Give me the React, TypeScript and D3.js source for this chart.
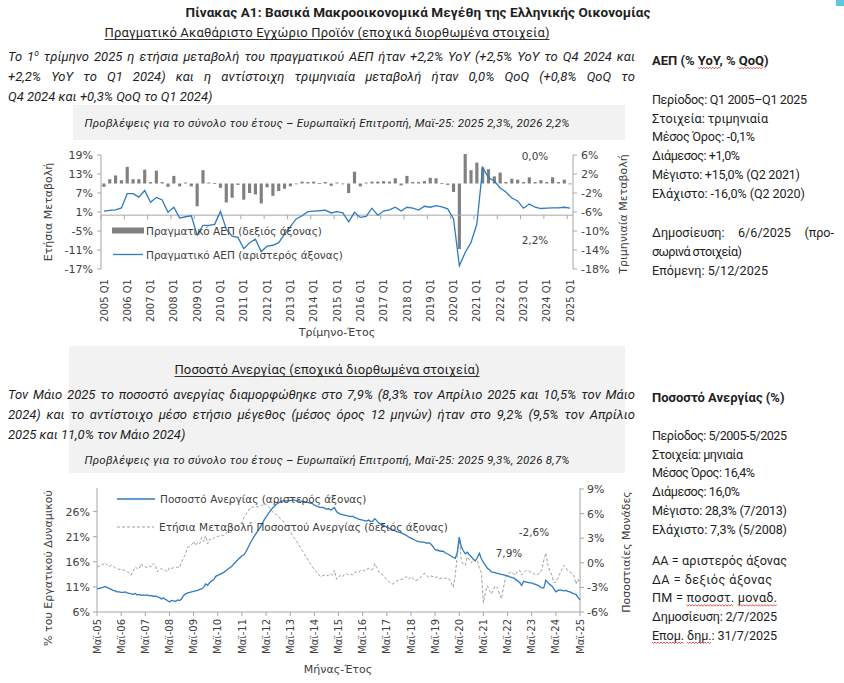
import React from 'react';
import * as d3 from 'd3';

// ---------------- DATA ----------------
const gdpTickLabels = ['2005 Q1', '2006 Q1', '2007 Q1', '2008 Q1', '2009 Q1', '2010 Q1', '2011 Q1', '2012 Q1', '2013 Q1', '2014 Q1', '2015 Q1', '2016 Q1', '2017 Q1', '2018 Q1', '2019 Q1', '2020 Q1', '2021 Q1', '2022 Q1', '2023 Q1', '2024 Q1', '2025 Q1'];

// Real GDP, % YoY (left axis), Q1 2005 .. Q1 2025
const gdpYoY = [
  1.3, 1.5, 1.7, 2.3,
  6.8, 6.8, 5.7, 7.8,
  4.1, 5.6, 4.8, 0.9,
  2.5, -0.9, -0.5, -0.2,
  -6.3, -3.2, -3.2, -2.9,
  1.2, -4.4, -6.6, -7.0,
  -10.6, -8.7, -7.6, -11.5,
  -9.8, -9.5, -8.7, -6.0,
  -3.6, -1.2, -0.2, 1.1,
  1.3, 1.4, 1.6, 0.7,
  1.1, 0.7, -2.1, 0.9,
  -0.7, -0.4, 2.2, 0.0,
  1.3, 1.7, 2.5, 1.3,
  2.5, 2.2, 1.6, 2.8,
  2.5, 3.0, 2.6, 2.0,
  -1.2, -16.0, -11.8, -8.6,
  -2.8, 15.0, 11.8, 10.8,
  8.6, 7.3, 5.4, 4.5,
  2.2, 3.5, 2.5, 2.1,
  2.2, 2.3, 2.3, 2.5,
  2.2,
];

// Real GDP, % QoQ (right axis)
const gdpQoQ = [
  -0.7, 0.9, 1.7, 0.7,
  3.5, 0.9, 0.9, 2.9,
  0.3, 2.7, 0.3, -0.7,
  1.6, -0.6, 0.2, -0.6,
  -4.8, 2.8, 0.2, 0.1,
  -0.9, -4.0, -3.0, -0.3,
  -3.4, -2.0, -2.3, -4.2,
  -0.8, -2.6, -1.6, -1.1,
  -0.6, -0.1, 0.4, 0.3,
  0.4, 0.1, 0.3, -0.5,
  0.2, 0.0, -2.0, 2.5,
  -0.6, 0.2, 0.4, 0.4,
  0.5, 0.4, 1.1, -0.4,
  1.6, 0.3, 0.3, 0.5,
  1.2, 1.1, 0.1, -0.3,
  -1.8, -13.8, 6.2, 2.8,
  4.4, 3.4, 3.0, 1.5,
  2.3, 0.3, 1.0, 0.8,
  0.3, 1.3, 0.3, 0.7,
  0.3, 1.3, 0.3, 0.8,
  0.0,
];

const unempTickLabels = ['Μαϊ-05', 'Μαϊ-06', 'Μαϊ-07', 'Μαϊ-08', 'Μαϊ-09', 'Μαϊ-10', 'Μαϊ-11', 'Μαϊ-12', 'Μαϊ-13', 'Μαϊ-14', 'Μαϊ-15', 'Μαϊ-16', 'Μαϊ-17', 'Μαϊ-18', 'Μαϊ-19', 'Μαϊ-20', 'Μαϊ-21', 'Μαϊ-22', 'Μαϊ-23', 'Μαϊ-24', 'Μαϊ-25'];

// Unemployment rate % (left axis), May 2005 .. May 2025, monthly
const unempRate = [
  10.6, 10.7, 10.8, 10.9, 11.1, 10.9, 10.7, 10.5, 10.3, 10.2, 10.0, 10.0,
  9.9, 9.9, 10.0, 9.8, 9.7, 9.6, 9.5, 9.7, 9.4, 9.5, 9.3, 9.4,
  9.3, 9.4, 9.2, 9.3, 9.1, 9.2, 9.0, 8.9, 8.6, 8.8, 8.5, 8.3,
  8.0, 8.3, 8.2, 8.1, 8.4, 8.3, 8.6, 9.3, 9.6, 9.8, 9.9, 10.0,
  10.1, 10.2, 10.3, 10.5, 10.6, 10.9, 11.6, 11.3, 11.9, 12.2, 12.4, 13.1,
  13.3, 13.5, 13.7, 13.9, 14.2, 14.5, 14.8, 15.1, 15.6, 16.0, 16.4, 16.8,
  17.2, 17.4, 18.0, 18.8, 19.6, 20.3, 21.0, 21.6, 22.2, 22.8, 23.5, 24.3,
  24.9, 25.5, 26.1, 26.6, 27.0, 27.4, 27.7, 27.9, 28.1, 28.2, 28.1, 28.2,
  28.2, 28.3, 28.3, 28.2, 28.1, 28.1, 28.0, 28.0, 27.9, 27.8, 27.7, 27.6,
  27.3, 27.1, 27.0, 26.8, 26.9, 26.7, 26.5, 26.6, 26.3, 26.5, 26.8, 26.0,
  25.7, 25.5, 25.4, 25.3, 25.2, 25.1, 25.0, 25.1, 24.8, 24.7, 24.5, 24.4,
  24.3, 24.2, 24.1, 24.3, 24.0, 24.1, 24.6, 24.2, 23.7, 23.5, 23.3, 23.1,
  22.9, 22.7, 22.5, 22.3, 22.2, 22.0, 21.9, 21.8, 21.6, 21.4, 21.2, 20.9,
  20.7, 20.5, 20.3, 20.1, 20.0, 19.9, 19.9, 19.8, 19.7, 19.8, 19.5, 19.0,
  18.4, 18.3, 18.2, 18.1, 18.1, 17.8, 17.6, 17.4, 17.1, 16.9, 16.7, 17.8,
  20.9, 19.0, 18.2, 17.6, 17.9, 17.4, 17.0, 16.5, 16.2, 16.8, 17.7, 16.6,
  15.9, 15.3, 14.7, 14.4, 14.0, 13.9, 13.8, 13.7, 13.6, 13.5, 13.4, 13.3,
  13.2, 13.0, 12.9, 12.8, 12.5, 12.2, 11.9, 11.3, 12.1, 12.0, 11.9, 11.8,
  11.8, 11.6, 11.5, 11.3, 11.1, 10.8, 10.8, 12.3, 11.9, 11.5, 11.2, 10.6,
  10.0, 10.3, 10.4, 10.3, 10.2, 10.3, 10.1, 10.0, 9.8, 9.6, 9.5, 8.9,
  8.4,
];

// Annual change of unemployment rate, percentage points (right axis)
const unempChange = [
  -0.5, -0.4, -0.3, -0.2, 0.0, -0.3, -0.5, -0.3, -0.4, -0.6, -0.7, -0.8,
  -0.8, -0.9, -0.9, -1.1, -1.2, -1.5, -1.0, -0.5, -0.7, -0.7, -0.1, -0.5,
  -0.5, -0.6, -0.4, -0.5, -0.1, -0.3, -1.1, -0.8, -0.7, -0.9, -0.9, -1.1,
  -0.6, -0.7, -0.6, -0.6, -0.5, -0.6, 0.1, 0.6, 1.1, 1.9, 2.0, 2.2,
  2.6, 2.1, 2.5, 2.3, 3.1, 2.6, 3.3, 2.3, 2.9, 2.8, 3.0, 3.2,
  3.2, 3.3, 3.4, 3.3, 3.6, 3.8, 3.7, 3.8, 3.9, 4.2, 4.5, 4.8,
  4.9, 5.5, 5.9, 6.3, 6.7, 6.8, 6.8, 6.9, 6.8, 6.9, 7.0, 7.3,
  7.1, 6.9, 6.6, 6.3, 6.0, 5.9, 5.7, 5.4, 5.2, 4.9, 4.5, 4.2,
  3.8, 3.4, 3.0, 2.7, 2.3, 1.9, 1.5, 1.1, 0.7, 0.3, -0.1, -0.5,
  -0.8, -1.1, -1.4, -1.7, -1.6, -1.5, -1.6, -1.5, -1.3, -1.5, -0.9, -2.0,
  -1.8, -1.5, -1.7, -1.4, -1.3, -1.5, -1.4, -1.5, -1.2, -1.1, -1.2, -0.9,
  -0.9, -1.0, -0.8, -0.7, -0.9, -0.8, -0.1, -0.6, -1.1, -1.2, -1.5, -1.8,
  -2.0, -2.3, -2.5, -2.6, -2.4, -2.2, -2.1, -2.0, -2.0, -1.8, -1.7, -2.0,
  -1.7, -1.9, -2.2, -2.1, -2.0, -1.7, -1.4, -1.3, -1.6, -1.8, -1.6, -1.7,
  -1.8, -1.7, -1.9, -1.9, -1.8, -1.9, -1.8, -2.0, -2.4, -3.0, -1.6, 0.8,
  3.1, 0.3, -0.2, -0.3, 0.7, 0.4, 0.0, 0.4, 0.2, 0.3, -0.6, -1.2,
  -4.9, -3.6, -2.8, -3.4, -3.8, -3.2, -2.8, -3.1, -3.8, -4.4, -3.0, -1.8,
  -1.5, -1.2, -1.1, -1.4, -1.5, -1.0, -0.9, -1.5, -1.2, -1.0, -0.9, -1.1,
  -1.1, -1.3, -1.5, -1.4, -1.3, -0.8, 0.3, 1.2, -0.2, -1.0, -1.5, -2.4,
  -2.4, -1.9, -1.3, -0.8, -0.3, -0.6, -1.0, -1.1, -1.3, -1.6, -2.6, -2.0,
  -2.6,
];

// ---------------- TEXT ----------------
const TF = 'Roboto, "Noto Sans", sans-serif';
const CF = '"DejaVu Sans", Verdana, sans-serif';
const TXT = '#1e1e1e';
const CTXT = '#404040';
const AXIS = '#a6a6a6';
const BLUE = '#2e7bbf';

let _ctx: CanvasRenderingContext2D | null = null;
function measure(t: string, font: string): number {
  if (!_ctx) {
    const c = document.createElement('canvas');
    _ctx = c.getContext('2d');
  }
  if (!_ctx) return t.length * 6;
  _ctx.font = font;
  return _ctx.measureText(t).width;
}

function Line({ text, x0, x1, y, size, italic = false, weight = 400, justify = false, fill = TXT }:
  { text: string; x0: number; x1?: number; y: number; size: number; italic?: boolean; weight?: number; justify?: boolean; fill?: string }) {
  const font = `${italic ? 'italic ' : ''}${weight} ${size}px Roboto`;
  const supFont = `${italic ? 'italic ' : ''}${weight} ${size * 0.65}px Roboto`;
  const words = text.split(' ').filter((w) => w.length > 0);
  const ww = (w: string) => {
    if (w.includes('^')) {
      const [a, b] = w.split('^');
      return measure(a, font) + measure(b, supFont);
    }
    return measure(w, font);
  };
  const widths = words.map(ww);
  const total = d3.sum(widths);
  const gap = justify && x1 !== undefined ? (x1 - x0 - total) / (words.length - 1) : measure(' ', font);
  let cx = x0;
  return (
    <g fontFamily={TF} fontSize={size} fontStyle={italic ? 'italic' : 'normal'} fontWeight={weight} fill={fill}>
      {words.map((w, i) => {
        const px = cx;
        cx += widths[i] + gap;
        if (w.includes('^')) {
          const [a, b] = w.split('^');
          return (
            <text key={i} x={px} y={y}>
              {a}
              <tspan fontSize={size * 0.65} dy={-size * 0.38}>{b}</tspan>
            </text>
          );
        }
        return <text key={i} x={px} y={y}>{w}</text>;
      })}
    </g>
  );
}

function Squiggle({ x0, x1, y }: { x0: number; x1: number; y: number }) {
  const pts: string[] = [];
  let up = true;
  for (let x = x0; x <= x1; x += 1.5) {
    pts.push(`${x.toFixed(1)},${(up ? y - 0.8 : y + 0.8).toFixed(1)}`);
    up = !up;
  }
  return <polyline points={pts.join(' ')} fill="none" stroke="#e0302a" strokeWidth={0.8} />;
}

// x-range of a word inside a text drawn with textLength (spacing adjusted)
function wordSpan(text: string, word: string, font: string, x0: number, target?: number) {
  const i = text.indexOf(word);
  const nat = measure(text, font);
  const extra = target ? (target - nat) / Math.max(1, text.length - 1) : 0;
  const a = x0 + measure(text.slice(0, i), font) + i * extra;
  const b = a + measure(word, font) + (word.length - 1) * extra;
  return [a, b];
}

// ---------------- CHARTS ----------------
function GdpChart() {
  const n = gdpYoY.length;
  const x = d3.scaleBand<number>().domain(d3.range(n)).range([101, 573]).padding(0);
  const bw = x.bandwidth();
  const cx = (i: number) => (x(i) as number) + bw / 2;
  const yL = d3.scaleLinear().domain([-17, 19]).range([269, 155]);
  const yR = d3.scaleLinear().domain([-18, 6]).range([269, 155]);
  const leftTicks = d3.range(-17, 20, 6);
  const rightTicks = d3.range(-18, 7, 4);
  const line = d3.line<number>().x((_, i) => cx(i)).y((d) => yL(d));
  const y0 = yL(0);
  return (
    <g fontFamily={CF} fill={CTXT}>
      {gdpQoQ.map((v, i) => (
        <rect key={i} x={cx(i) - bw * 0.27} width={bw * 0.54} y={Math.min(yR(v), yR(0))} height={Math.max(0.8, Math.abs(yR(v) - yR(0)))} fill="#808080" />
      ))}
      <line x1={101} x2={101} y1={155} y2={269} stroke={AXIS} />
      {leftTicks.map((t) => (
        <g key={t}>
          <line x1={97} x2={101} y1={yL(t)} y2={yL(t)} stroke={AXIS} />
          <text x={93} y={yL(t) + 4} textAnchor="end" fontSize={11}>{`${t}%`}</text>
        </g>
      ))}
      <line x1={573} x2={573} y1={155} y2={269} stroke={AXIS} />
      {rightTicks.map((t) => (
        <g key={t}>
          <line x1={573} x2={577} y1={yR(t)} y2={yR(t)} stroke={AXIS} />
          <text x={581} y={yR(t) + 4} textAnchor="start" fontSize={11}>{`${t}%`}</text>
        </g>
      ))}
      <line x1={101} x2={573} y1={y0} y2={y0} stroke={AXIS} />
      {gdpTickLabels.map((lab, k) => {
        const xb = x(k * 4) as number;
        return (
          <g key={lab}>
            <line x1={xb} x2={xb} y1={y0} y2={y0 + 4} stroke={AXIS} />
            <text transform={`translate(${cx(k * 4) + 3.6},${279}) rotate(-90)`} textAnchor="end" fontSize={10}>{lab}</text>
          </g>
        );
      })}
      <path d={line(gdpYoY) || ''} fill="none" stroke={BLUE} strokeWidth={1.3} />
      <rect x={112} y={227.5} width={32} height={6} fill="#808080" />
      <text x={146} y={234.5} fontSize={10.5}>Πραγματικό ΑΕΠ (δεξιός άξονας)</text>
      <line x1={113} x2={143} y1={254.5} y2={254.5} stroke={BLUE} strokeWidth={1.3} />
      <text x={146} y={258.5} fontSize={10.5}>Πραγματικό ΑΕΠ (αριστερός άξονας)</text>
      <text x={535} y={160} textAnchor="middle" fontSize={10.5}>0,0%</text>
      <text x={535} y={244} textAnchor="middle" fontSize={10.5}>2,2%</text>
      <text transform="translate(52,212) rotate(-90)" textAnchor="middle" fontSize={11}>Ετήσια Μεταβολή</text>
      <text transform="translate(627,214) rotate(-90)" textAnchor="middle" fontSize={11}>Τριμηνιαία Μεταβολή</text>
      <text x={337} y={336} textAnchor="middle" fontSize={11}>Τρίμηνο-Έτος</text>
    </g>
  );
}

function UnempChart() {
  const n = unempRate.length;
  const x = d3.scaleLinear().domain([0, n - 1]).range([97, 580]);
  const yL = d3.scaleLinear().domain([6, 30.5]).range([612, 489]);
  const yR = d3.scaleLinear().domain([-6, 9]).range([612, 489]);
  const leftTicks = d3.range(6, 27, 5);
  const rightTicks = d3.range(-6, 10, 3);
  const lineL = d3.line<number>().x((_, i) => x(i)).y((d) => yL(d));
  const lineR = d3.line<number>().x((_, i) => x(i)).y((d) => yR(d));
  return (
    <g fontFamily={CF} fill={CTXT}>
      <line x1={97} x2={97} y1={488} y2={612} stroke={AXIS} />
      {leftTicks.map((t) => (
        <g key={t}>
          <line x1={93} x2={97} y1={yL(t)} y2={yL(t)} stroke={AXIS} />
          <text x={90} y={yL(t) + 4} textAnchor="end" fontSize={11}>{`${t}%`}</text>
        </g>
      ))}
      <line x1={580} x2={580} y1={488} y2={612} stroke={AXIS} />
      {rightTicks.map((t) => (
        <g key={t}>
          <line x1={580} x2={584} y1={yR(t)} y2={yR(t)} stroke={AXIS} />
          <text x={587} y={yR(t) + 4} textAnchor="start" fontSize={11}>{`${t}%`}</text>
        </g>
      ))}
      <line x1={97} x2={580} y1={612} y2={612} stroke={AXIS} />
      {unempTickLabels.map((lab, k) => {
        const xm = x(k * 12);
        return (
          <g key={lab}>
            <line x1={xm} x2={xm} y1={612} y2={616} stroke={AXIS} />
            <text transform={`translate(${xm + 3.6},${619}) rotate(-90)`} textAnchor="end" fontSize={10}>{lab}</text>
          </g>
        );
      })}
      <path d={lineR(unempChange) || ''} fill="none" stroke="#a0a0a0" strokeWidth={1} strokeDasharray="3,2" />
      <path d={lineL(unempRate) || ''} fill="none" stroke={BLUE} strokeWidth={1.3} />
      <line x1={117} x2={155} y1={499} y2={499} stroke={BLUE} strokeWidth={1.3} />
      <text x={160} y={503} fontSize={10.5}>Ποσοστό Ανεργίας (αριστερός άξονας)</text>
      <line x1={117} x2={154} y1={527} y2={527} stroke="#a0a0a0" strokeWidth={1} strokeDasharray="3,2" />
      <text x={159} y={531} fontSize={10.5}>Ετήσια Μεταβολή Ποσοστού Ανεργίας (δεξιός άξονας)</text>
      <text x={534} y={536} textAnchor="middle" fontSize={10.5}>-2,6%</text>
      <text x={509} y={557} textAnchor="middle" fontSize={10.5}>7,9%</text>
      <text transform="translate(52,568) rotate(-90)" textAnchor="middle" fontSize={11}>% του Εργατικού Δυναμικού</text>
      <text transform="translate(630,552) rotate(-90)" textAnchor="middle" fontSize={11}>Ποσοστιαίες Μονάδες</text>
      <text x={338} y={673} textAnchor="middle" fontSize={11}>Μήνας-Έτος</text>
    </g>
  );
}

// ---------------- PANELS ----------------
const panel1Rows = ['Περίοδος: Q1 2005–Q1 2025', 'Στοιχεία: τριμηνιαία', 'Μέσος Όρος: -0,1%', 'Διάμεσος: +1,0%', 'Μέγιστο: +15,0% (Q2 2021)', 'Ελάχιστο: -16,0% (Q2 2020)'];
const panel1Widths = [155, 116, 103, 88, 148, 153];
const panel2Rows = ['Περίοδος: 5/2005-5/2025', 'Στοιχεία: μηνιαία', 'Μέσος Όρος: 16,4%', 'Διάμεσος: 16,0%', 'Μέγιστο: 28,3% (7/2013)', 'Ελάχιστο: 7,3% (5/2008)'];
const panel2Widths = [135, 91, 103, 88, 135, 135];
const panel2Notes = ['ΑΑ = αριστερός άξονας', 'ΔΑ = δεξιός άξονας', 'ΠΜ = ποσοστ. μοναδ.', 'Δημοσίευση: 2/7/2025', 'Επομ. δημ.: 31/7/2025'];
const panel2NoteWidths = [135, 120, 125, 125, 125];

function Panels() {
  const px = 652;
  const fs = 12.6;
  const f = `400 ${fs}px Roboto`;
  const fb = `700 13px Roboto`;
  const t1 = 'ΑΕΠ (% YoY, % QoQ)';
  const [a1, b1] = wordSpan(t1, 'YoY', fb, px);
  const [a2, b2] = wordSpan(t1, 'QoQ', fb, px);
  const n3 = panel2Notes[2];
  const [c1, d1] = wordSpan(n3, 'ποσοστ.', f, px, panel2NoteWidths[2]);
  const [c2, d2] = wordSpan(n3, 'μοναδ.', f, px, panel2NoteWidths[2]);
  const n5 = panel2Notes[4];
  const [e1, g1] = wordSpan(n5, 'Επομ.', f, px, panel2NoteWidths[4]);
  const [e2, g2] = wordSpan(n5, 'δημ.', f, px, panel2NoteWidths[4]);
  const step = 18.7;
  return (
    <g fontFamily={TF} fontSize={fs} fill={TXT}>
      <text x={px} y={65} fontWeight={700} fontSize={13}>{t1}</text>
      <Squiggle x0={a1} x1={b1} y={68} />
      <Squiggle x0={a2} x1={b2} y={68} />
      {panel1Rows.map((r, i) => (
        <text key={r} x={px} y={104 + i * step} textLength={panel1Widths[i]} lengthAdjust="spacing">{r}</text>
      ))}
      <Line text="Δημοσίευση: 6/6/2025 (προ-" x0={px} x1={834} y={237} size={fs} justify />
      <text x={px} y={256} textLength={90} lengthAdjust="spacing">σωρινά στοιχεία)</text>
      <text x={px} y={274.5} textLength={116} lengthAdjust="spacing">Επόμενη: 5/12/2025</text>

      <text x={px} y={402} fontWeight={700} fontSize={13}>Ποσοστό Ανεργίας (%)</text>
      {panel2Rows.map((r, i) => (
        <text key={r} x={px} y={440 + i * step} textLength={panel2Widths[i]} lengthAdjust="spacing">{r}</text>
      ))}
      {panel2Notes.map((r, i) => (
        <text key={r} x={px} y={565 + i * step} textLength={panel2NoteWidths[i]} lengthAdjust="spacing">{r}</text>
      ))}
      <Squiggle x0={c1} x1={d1} y={565 + 2 * step + 3} />
      <Squiggle x0={c2} x1={d2} y={565 + 2 * step + 3} />
      <Squiggle x0={e1} x1={g1} y={565 + 4 * step + 3} />
      <Squiggle x0={e2} x1={g2} y={565 + 4 * step + 3} />
    </g>
  );
}

export default function App() {
  const title = 'Πίνακας Α1: Βασικά Μακροοικονομικά Μεγέθη της Ελληνικής Οικονομίας';
  const sub1 = 'Πραγματικό Ακαθάριστο Εγχώριο Προϊόν (εποχικά διορθωμένα στοιχεία)';
  const sub2 = 'Ποσοστό Ανεργίας (εποχικά διορθωμένα στοιχεία)';
  const fc1 = 'Προβλέψεις για το σύνολο του έτους – Ευρωπαϊκή Επιτροπή, Μαϊ-25: 2025 2,3%, 2026 2,2%';
  const fc2 = 'Προβλέψεις για το σύνολο του έτους – Ευρωπαϊκή Επιτροπή,  Μαϊ-25: 2025 9,3%, 2026 8,7%';
  return (
    <svg width={844} height={683} viewBox="0 0 844 683" style={{ position: 'absolute', left: 0, top: 0 }} xmlns="http://www.w3.org/2000/svg">
      <rect width={844} height={683} fill="#ffffff" />
      <rect x={73} y={105} width={552} height={35} fill="#f2f2f2" />
      <rect x={69} y={346} width={556} height={127} fill="#f2f2f2" />
      <rect x={836} y={0} width={8} height={6} fill="#5cc7dd" />

      <text x={418} y={17} textAnchor="middle" fontFamily={TF} fontWeight={700} fontSize={13.5} fill={TXT} textLength={465} lengthAdjust="spacing">{title}</text>
      <text x={327} y={37} textAnchor="middle" fontFamily={TF} fontSize={13} fill={TXT} textLength={445} lengthAdjust="spacing">{sub1}</text>
      <line x1={104.5} x2={549.5} y1={39.5} y2={39.5} stroke={TXT} strokeWidth={0.9} />

      <Line text="Το 1^ο τρίμηνο 2025 η ετήσια μεταβολή του πραγματικού ΑΕΠ ήταν +2,2% YoY (+2,5% YoY το Q4 2024 και" x0={8} x1={635} y={61} size={13} italic justify />
      <Line text="+2,2% YoY το Q1 2024) και η αντίστοιχη τριμηνιαία μεταβολή ήταν 0,0% QoQ (+0,8% QoQ το" x0={8} x1={635} y={81} size={13} italic justify />
      <Line text="Q4 2024 και +0,3% QoQ το Q1 2024)" x0={8} y={101} size={13} italic />

      <text x={327} y={127} textAnchor="middle" fontFamily={TF} fontStyle="italic" fontSize={11.5} fill={TXT} textLength={485} lengthAdjust="spacing">{fc1}</text>

      <GdpChart />

      <text x={327} y={374} textAnchor="middle" fontFamily={TF} fontSize={13} fill={TXT} textLength={305} lengthAdjust="spacing">{sub2}</text>
      <line x1={174.5} x2={479.5} y1={376.5} y2={376.5} stroke={TXT} strokeWidth={0.9} />

      <Line text="Τον Μάιο 2025 το ποσοστό ανεργίας διαμορφώθηκε στο 7,9% (8,3% τον Απρίλιο 2025 και 10,5% τον Μάιο" x0={8} x1={635} y={399} size={13} italic justify />
      <Line text="2024) και το αντίστοιχο μέσο ετήσιο μέγεθος (μέσος όρος 12 μηνών) ήταν στο 9,2% (9,5% τον Απρίλιο" x0={8} x1={635} y={419} size={13} italic justify />
      <Line text="2025 και 11,0% τον Μάιο 2024)" x0={8} y={439} size={13} italic />

      <text x={327} y={464} textAnchor="middle" fontFamily={TF} fontStyle="italic" fontSize={11.5} fill={TXT} textLength={485} lengthAdjust="spacing">{fc2}</text>

      <UnempChart />
      <Panels />
    </svg>
  );
}
